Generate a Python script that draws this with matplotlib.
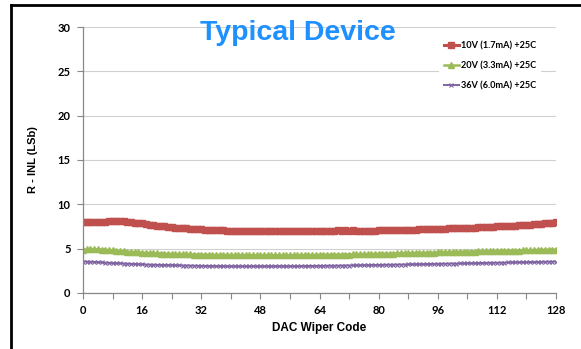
import matplotlib
matplotlib.use("Agg")
import matplotlib.pyplot as plt
from matplotlib.lines import Line2D
import numpy as np

# DAC wiper codes 0..128
codes = list(range(129))

# 10V (1.7mA) +25C
inl_10v = [
    8.00, 8.00, 8.00, 8.00, 8.02, 8.04, 8.06, 8.08,
    8.10, 8.10, 8.10, 8.08, 8.05, 8.00, 7.95, 7.90,
    7.84, 7.78, 7.72, 7.66, 7.60, 7.55, 7.50, 7.45,
    7.40, 7.36, 7.33, 7.30, 7.28, 7.25, 7.22, 7.20,
    7.18, 7.15, 7.12, 7.10, 7.08, 7.06, 7.05, 7.03,
    7.02, 7.01, 7.00, 7.00, 6.99, 6.98, 6.98, 6.97,
    6.97, 6.97, 6.96, 6.96, 6.96, 6.96, 6.96, 6.96,
    6.96, 6.96, 6.96, 6.97, 6.97, 6.97, 6.97, 6.98,
    6.98, 6.98, 6.99, 6.99, 7.00, 7.06, 6.95, 7.06,
    6.95, 7.06, 6.98, 7.02, 7.01, 7.02, 7.03, 7.04,
    7.05, 7.06, 7.07, 7.08, 7.10, 7.11, 7.12, 7.13,
    7.14, 7.15, 7.16, 7.18, 7.19, 7.20, 7.21, 7.22,
    7.24, 7.25, 7.26, 7.28, 7.29, 7.30, 7.32, 7.33,
    7.35, 7.36, 7.38, 7.40, 7.42, 7.44, 7.46, 7.48,
    7.50, 7.52, 7.54, 7.56, 7.58, 7.60, 7.62, 7.65,
    7.67, 7.70, 7.73, 7.76, 7.80, 7.84, 7.88, 7.93,
    8.00,
]

# 20V (3.3mA) +25C
inl_20v = [
    4.90, 4.92, 4.93, 4.93, 4.92, 4.90, 4.87, 4.84,
    4.80, 4.76, 4.72, 4.68, 4.65, 4.62, 4.59, 4.57,
    4.55, 4.53, 4.51, 4.49, 4.47, 4.45, 4.43, 4.42,
    4.40, 4.39, 4.38, 4.37, 4.36, 4.35, 4.34, 4.33,
    4.32, 4.31, 4.30, 4.30, 4.29, 4.29, 4.28, 4.28,
    4.27, 4.27, 4.27, 4.26, 4.26, 4.26, 4.26, 4.25,
    4.25, 4.25, 4.25, 4.25, 4.25, 4.25, 4.26, 4.26,
    4.26, 4.26, 4.27, 4.27, 4.27, 4.28, 4.28, 4.29,
    4.29, 4.30, 4.30, 4.31, 4.32, 4.32, 4.33, 4.34,
    4.34, 4.35, 4.36, 4.37, 4.38, 4.38, 4.39, 4.40,
    4.41, 4.42, 4.43, 4.44, 4.45, 4.46, 4.47, 4.48,
    4.49, 4.50, 4.51, 4.52, 4.53, 4.54, 4.55, 4.56,
    4.57, 4.58, 4.59, 4.60, 4.61, 4.62, 4.63, 4.64,
    4.65, 4.66, 4.67, 4.68, 4.69, 4.70, 4.71, 4.72,
    4.73, 4.74, 4.75, 4.76, 4.77, 4.78, 4.79, 4.80,
    4.81, 4.82, 4.83, 4.84, 4.85, 4.86, 4.87, 4.88,
    4.90,
]

# 36V (6.0mA) +25C
inl_36v = [
    3.55, 3.54, 3.52, 3.50, 3.47, 3.45, 3.42, 3.40,
    3.38, 3.36, 3.34, 3.32, 3.30, 3.28, 3.26, 3.24,
    3.22, 3.20, 3.19, 3.18, 3.17, 3.16, 3.15, 3.14,
    3.13, 3.12, 3.11, 3.10, 3.09, 3.08, 3.07, 3.06,
    3.05, 3.05, 3.04, 3.04, 3.03, 3.03, 3.02, 3.02,
    3.01, 3.01, 3.01, 3.00, 3.00, 3.00, 3.00, 3.00,
    3.00, 3.00, 3.00, 3.00, 3.00, 3.01, 3.01, 3.01,
    3.02, 3.02, 3.03, 3.03, 3.04, 3.04, 3.05, 3.05,
    3.06, 3.06, 3.07, 3.07, 3.08, 3.08, 3.09, 3.10,
    3.10, 3.11, 3.12, 3.12, 3.13, 3.14, 3.15, 3.15,
    3.16, 3.17, 3.18, 3.18, 3.19, 3.20, 3.21, 3.21,
    3.22, 3.23, 3.24, 3.24, 3.25, 3.26, 3.27, 3.28,
    3.28, 3.29, 3.30, 3.31, 3.32, 3.32, 3.33, 3.34,
    3.35, 3.36, 3.36, 3.37, 3.38, 3.39, 3.40, 3.40,
    3.41, 3.42, 3.43, 3.44, 3.44, 3.45, 3.46, 3.47,
    3.48, 3.48, 3.49, 3.50, 3.51, 3.52, 3.53, 3.54,
    3.55,
]

labels = ["10V (1.7mA) +25C", "20V (3.3mA) +25C", "36V (6.0mA) +25C"]
x_ticks = [0, 16, 32, 48, 64, 80, 96, 112, 128]
y_ticks = [0, 5, 10, 15, 20, 25, 30]

fig = plt.figure(figsize=(5.81, 3.49), dpi=100)
ax = fig.add_axes([0.1429, 0.1605, 0.8141, 0.7621])

ax.plot(codes, inl_10v, color="#C0504D", marker="s", markersize=5, lw=2.2, label=labels[0])
ax.plot(codes, inl_20v, color="#9BBB59", marker="^", markersize=3.8, lw=1.8, label=labels[1])
ax.plot(codes, inl_36v, color="#8064A2", marker="x", markersize=3.2, mew=0.8, lw=1.4, label=labels[2])

ax.set_xlim(0, 128)
ax.set_ylim(0, 30)
ax.set_xticks(x_ticks)
ax.set_xticks(range(0, 129, 8), minor=True)
ax.set_yticks(y_ticks)

tick_font = {"family": "Lato", "weight": "bold", "size": 8}
ax.set_xticklabels([str(t) for t in x_ticks], fontdict=tick_font)
ax.set_yticklabels([str(t) for t in y_ticks], fontdict=tick_font)
ax.tick_params(axis="both", which="both", direction="out", color="#888888", length=4, width=0.8)
ax.tick_params(axis="x", pad=5)
ax.tick_params(axis="y", pad=5)

ax.grid(axis="y", color="#d0d0d0", lw=0.8)
ax.set_axisbelow(True)
for s in ["top", "right"]:
    ax.spines[s].set_visible(False)
for s in ["left", "bottom"]:
    ax.spines[s].set_color("#888888")
    ax.spines[s].set_linewidth(0.9)

ax.set_xlabel("DAC Wiper Code", family="Liberation Sans", weight="bold", fontsize=8.5, labelpad=4)
ax.set_ylabel("R - INL (LSb)", family="Liberation Sans", weight="bold", fontsize=8, labelpad=14)

fig.text(0.513, 0.905, "Typical Device", color="#1E90FF", family="Liberation Sans",
         weight="bold", fontsize=20.5, ha="center", va="center")

leg = ax.legend(loc="upper left", bbox_to_anchor=(0.742, 0.985), frameon=True,
                edgecolor="none", facecolor="white", framealpha=1,
                prop={"family": "Lato", "weight": "bold", "size": 6.6},
                handlelength=1.6, handletextpad=0.2, labelspacing=1.2,
                borderpad=0.6, fancybox=False)

# black border at top and left of the figure
fig.add_artist(Line2D([0.019, 1.0], [0.986, 0.986], transform=fig.transFigure, color="black", lw=2))
fig.add_artist(Line2D([0.019, 0.019], [0.0, 0.986], transform=fig.transFigure, color="black", lw=2))

fig.savefig("out.png", dpi=100)
